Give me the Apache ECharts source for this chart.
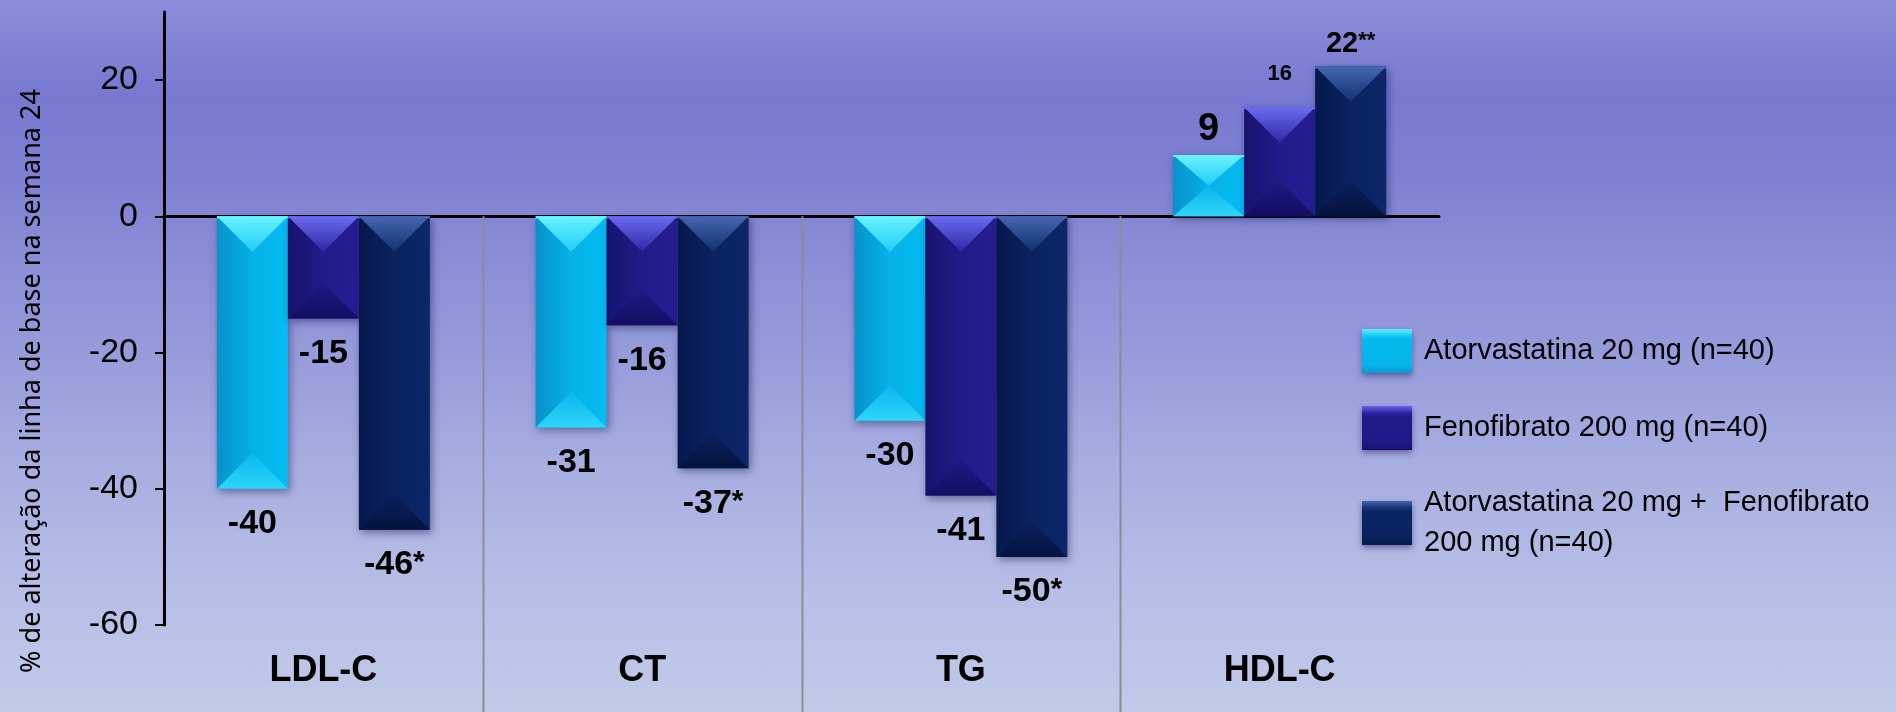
<!DOCTYPE html>
<html>
<head>
<meta charset="utf-8">
<script src="https://cdn.jsdelivr.net/npm/echarts@6/dist/echarts.min.js"></script>
<style>
  html, body { margin: 0; padding: 0; }
  #chart {
    width: 1896px; height: 712px;
    background: linear-gradient(to bottom,
      #8c8dda 0px, #7779d1 95px, #7d80d2 170px, #8a8ed6 260px,
      #979cdb 360px, #a6ade0 460px, #b4bce5 570px, #c2cae9 712px);
  }
</style>
</head>
<body>
<div id="chart"></div>
<script>
// Lipid endpoints and % change from baseline at week 24
const categories = ['LDL-C', 'CT', 'TG', 'HDL-C'];
const atorvastatina = [-40, -31, -30, 9];
const fenofibrato = [-15, -16, -41, 16];
const combinacao = [-46, -37, -50, 22];
const marcasCombinacao = ['*', '*', '*', '**'];
const yTickValues = [-60, -40, -20, 0, 20];
const seriesNames = [
  'Atorvastatina 20 mg (n=40)',
  'Fenofibrato 200 mg (n=40)',
  'Atorvastatina 20 mg +  Fenofibrato\n200 mg (n=40)'
];

const FONT = '"Liberation Sans", Arial, Helvetica, sans-serif';
const BAR_W = 71;

// Colour sets for the three treatments: face (left→right), top bevel, bottom bevel, legend icon
const palettes = [
  { face: ['#0793cc', '#06b0e8', '#05bcf2'], top: ['#6af2ff', '#22cdf6'], bottom: ['#2ed6fb', '#0ab6ec'],
    icon: ['#63eeff', '#16c6f4', '#04b8ee', '#04b4ea', '#0a9acd'] },
  { face: ['#18126e', '#211a88', '#251d92'], top: ['#6b6bef', '#2d27a2'], bottom: ['#120e62', '#1f1884'],
    icon: ['#6565e8', '#2a24a0', '#221a8a', '#201888', '#17116c'] },
  { face: ['#05184c', '#0a2260', '#0c2668'], top: ['#4666b0', '#11306f'], bottom: ['#04133f', '#0a205c'],
    icon: ['#4464ac', '#143476', '#0a2462', '#0a2260', '#061a4c'] }
];

// Style key for each value label (size differs for the HDL-C labels)
const labelKeys = [
  ['v', 'v', 'v', 'vBig'],
  ['v', 'v', 'v', 'vSmall'],
  ['v', 'v', 'v', 'vMid']
];
const labelGapsPositive = [7, 22, 8];
const labelGapNegative = 18;

function grad(x2, y2, colors) {
  const n = colors.length;
  return {
    type: 'linear', x: 0, y: 0, x2: x2, y2: y2,
    colorStops: colors.map((c, i) => ({ offset: n === 1 ? 0 : i / (n - 1), color: c }))
  };
}

const richStyles = {
  v:      { fontFamily: FONT, fontWeight: 'bold', fontSize: 34, color: '#000' },
  vBig:   { fontFamily: FONT, fontWeight: 'bold', fontSize: 38, color: '#000' },
  vSmall: { fontFamily: FONT, fontWeight: 'bold', fontSize: 22, color: '#000' },
  vMid:   { fontFamily: FONT, fontWeight: 'bold', fontSize: 29, color: '#000' },
  s:      { fontFamily: FONT, fontWeight: 'bold', fontSize: 30, color: '#000', verticalAlign: 'top' },
  sMid:   { fontFamily: FONT, fontWeight: 'bold', fontSize: 22, color: '#000', verticalAlign: 'top' }
};

function barSeries(idx, values, marks) {
  return {
    name: seriesNames[idx],
    type: 'bar',
    xAxisIndex: 0,
    barWidth: BAR_W,
    barGap: '0%',
    itemStyle: {
      color: grad(1, 0, palettes[idx].face),
      shadowBlur: 8,
      shadowColor: 'rgba(15, 15, 70, 0.45)',
      shadowOffsetX: 2,
      shadowOffsetY: 3
    },
    data: values.map((v) => ({
      value: v,
      label: {
        position: v < 0 ? 'bottom' : 'top',
        distance: v < 0 ? labelGapNegative : labelGapsPositive[idx]
      }
    })),
    label: {
      show: true,
      formatter: (p) => {
        const key = labelKeys[idx][p.dataIndex];
        let txt = '{' + key + '|' + p.value + '}';
        if (marks) txt += '{' + (key === 'vMid' ? 'sMid' : 's') + '|' + marks[p.dataIndex] + '}';
        return txt;
      },
      rich: richStyles
    },
    z: 2
  };
}

// Bevel facets painted over every bar, positioned through the axes
const bevelData = [];
[atorvastatina, fenofibrato, combinacao].forEach((arr, s) => {
  arr.forEach((v, c) => bevelData.push([c, s, v]));
});

function renderBevel(params, api) {
  const c = api.value(0), s = api.value(1), v = api.value(2);
  const zero = api.coord([c, 0]);
  const end = api.coord([c, v]);
  const cx = zero[0] + (s - 1) * BAR_W;
  const x0 = cx - BAR_W / 2, x1 = cx + BAR_W / 2;
  const yt = Math.min(zero[1], end[1]);
  const yb = Math.max(zero[1], end[1]);
  const d = Math.min(BAR_W / 2, (yb - yt) / 2);
  const p = palettes[s];
  return {
    type: 'group',
    silent: true,
    children: [
      { type: 'polygon', shape: { points: [[x0, yt], [x1, yt], [cx, yt + d]] },
        style: { fill: grad(0, 1, p.top) } },
      { type: 'polygon', shape: { points: [[x0, yb], [x1, yb], [cx, yb - d]] },
        style: { fill: grad(0, 1, [p.bottom[1], p.bottom[0]]) } },
      { type: 'rect', shape: { x: x0, y: yt, width: BAR_W, height: 2 },
        style: { fill: p.top[0] } }
    ]
  };
}

// Vertical separators between the groups, from the zero line down
function renderSeparator(params, api) {
  const c = api.value(0);
  const pt = api.coord([c, 0]);
  const half = api.size([1, 0])[0] / 2;
  const x = Math.round(pt[0] - half) + 0.5;
  return {
    type: 'line',
    silent: true,
    shape: { x1: x, y1: pt[1], x2: x, y2: api.getHeight() },
    style: { stroke: '#8c8c98', lineWidth: 2 }
  };
}

const chart = echarts.init(document.getElementById('chart'), null, { renderer: 'canvas' });

chart.setOption({
  backgroundColor: 'transparent',
  animation: false,
  textStyle: { fontFamily: FONT },
  grid: { left: 164, top: 12, width: 1275, bottom: 87, containLabel: false },
  legend: {
    orient: 'vertical',
    left: 1362,
    top: 329,
    padding: 0,
    itemWidth: 50,
    itemHeight: 44,
    itemGap: 33,
    selectedMode: false,
    icon: 'rect',
    textStyle: {
      fontFamily: FONT, fontSize: 29, color: '#000', lineHeight: 40,
      padding: [0, 0, 0, 7]
    },
    data: seriesNames.map((name, i) => ({
      name: name,
      itemStyle: {
        color: {
          type: 'linear', x: 0, y: 0, x2: 0, y2: 1,
          colorStops: [
            { offset: 0, color: palettes[i].icon[0] },
            { offset: 0.16, color: palettes[i].icon[1] },
            { offset: 0.24, color: palettes[i].icon[2] },
            { offset: 0.82, color: palettes[i].icon[3] },
            { offset: 1, color: palettes[i].icon[4] }
          ]
        },
        shadowBlur: 6,
        shadowColor: 'rgba(15, 15, 70, 0.45)',
        shadowOffsetY: 3
      }
    }))
  },
  xAxis: [
    {
      type: 'category',
      data: categories,
      position: 'bottom',
      axisLine: { show: false, onZero: false },
      axisTick: { show: false },
      splitLine: { show: false },
      axisLabel: {
        fontFamily: FONT, fontSize: 36, fontWeight: 'bold', color: '#000', margin: 28
      }
    },
    {
      type: 'category',
      data: categories,
      position: 'bottom',
      axisLine: { show: true, onZero: true, lineStyle: { color: '#000', width: 3 } },
      axisTick: { show: false },
      axisLabel: { show: false },
      splitLine: { show: false }
    }
  ],
  yAxis: {
    type: 'value',
    min: -60,
    max: 30,
    interval: 20,
    axisLine: { show: true, lineStyle: { color: '#000', width: 3 } },
    axisTick: { show: true, length: 9, customValues: yTickValues, lineStyle: { color: '#000', width: 2 } },
    axisLabel: {
      customValues: yTickValues,
      fontFamily: FONT, fontSize: 34, color: '#000', margin: 26
    },
    splitLine: { show: false }
  },
  graphic: [
    {
      type: 'text',
      x: 32,
      y: 381,
      rotation: Math.PI / 2,
      style: {
        text: '% de alteração da linha de base na semana 24',
        font: '27px "Noto Sans", "Open Sans", sans-serif',
        fill: '#000',
        textAlign: 'center',
        textVerticalAlign: 'middle'
      }
    }
  ],
  series: [
    {
      type: 'custom',
      name: 'separadores',
      xAxisIndex: 0,
      renderItem: renderSeparator,
      encode: { x: 0, y: 1 },
      data: [[1, 0], [2, 0], [3, 0]],
      clip: false,
      silent: true,
      z: 1
    },
    barSeries(0, atorvastatina, null),
    barSeries(1, fenofibrato, null),
    barSeries(2, combinacao, marcasCombinacao),
    {
      type: 'custom',
      name: 'bisel',
      xAxisIndex: 0,
      renderItem: renderBevel,
      encode: { x: 0, y: 2 },
      data: bevelData,
      silent: true,
      z: 3
    }
  ]
});
</script>
</body>
</html>
